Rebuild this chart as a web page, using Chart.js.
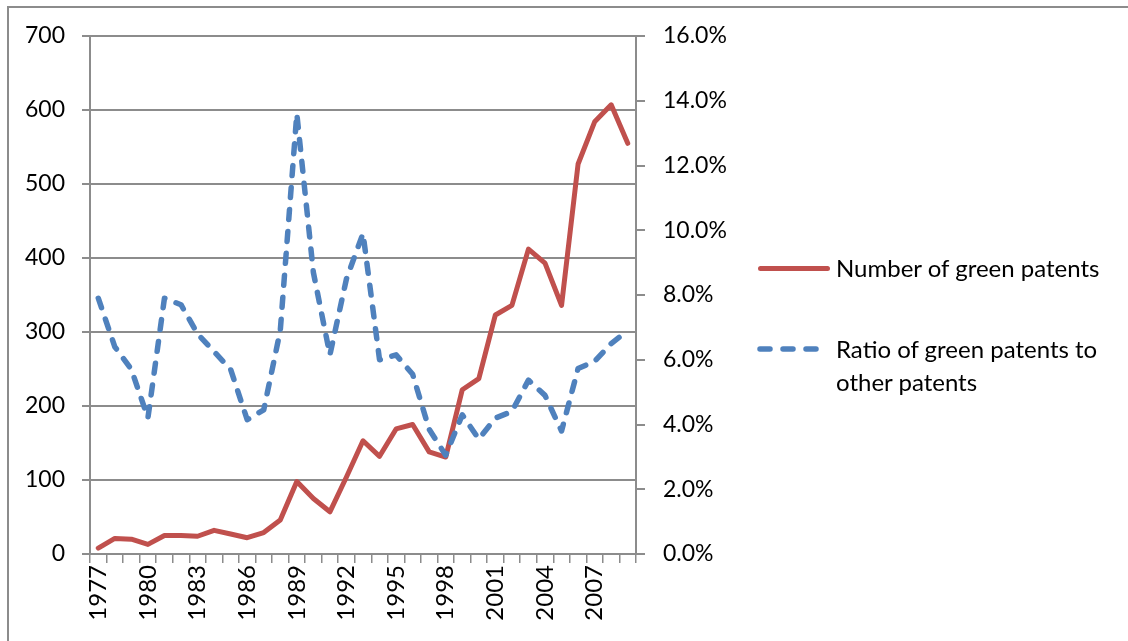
<!DOCTYPE html>
<html>
<head>
<meta charset="utf-8">
<script src="https://cdn.jsdelivr.net/npm/chart.js@4.4.1/dist/chart.umd.min.js"></script>
<style>
  html, body { margin: 0; padding: 0; background: #fff; }
  #wrap { position: relative; width: 1128px; height: 641px; overflow: hidden; font-family: Lato, "Open Sans", sans-serif; }
  #frame { position: absolute; left: 7px; top: 6px; width: 1200px; height: 700px; border-left: 2px solid #8c8c8c; border-top: 2px solid #8c8c8c; }
  #chart { position: absolute; left: 0; top: 0; }
  .leg { position: absolute; font-size: 24px; color: #000; line-height: 33px; }
  .sw { position: absolute; height: 0; }
</style>
</head>
<body>
<div id="wrap">
  <div id="frame"></div>
  <canvas id="chart" width="1128" height="641"></canvas>
  <div class="sw" style="left:758px; top:266px; width:72px; border-top:5px solid #C0504D; border-radius:3px;"></div>
  <div class="leg" style="left:836px; top:251px;">Number of green patents</div>
  <svg style="position:absolute; left:754px; top:343px;" width="80" height="12">
    <line x1="6" y1="6" x2="72" y2="6" stroke="#4F81BD" stroke-width="5.5" stroke-linecap="round" stroke-dasharray="10 13"/>
  </svg>
  <div class="leg" style="left:836px; top:332px;">Ratio of green patents to<br>other patents</div>
</div>
<script>
// categories
const years = ['1977', '1978', '1979', '1980', '1981', '1982', '1983', '1984', '1985', '1986', '1987',
  '1988', '1989', '1990', '1991', '1992', '1993', '1994', '1995', '1996', '1997', '1998',
  '1999', '2000', '2001', '2002', '2003', '2004', '2005', '2006', '2007', '2008', '2009'];

// number of green patents (left axis)
const greenPatents = [8, 21, 20, 13, 25, 25, 24, 32, 27, 22, 29,
  46, 98, 75, 57, 104, 153, 132, 169, 175, 138, 131,
  222, 237, 323, 336, 412, 393, 336, 527, 584, 607, 555];

// ratio of green patents to other patents, in % (right axis)
const greenRatio = [7.9, 6.4, 5.7, 4.2, 7.9, 7.7, 6.8, 6.25, 5.7, 4.15, 4.45,
  6.9, 13.6, 8.7, 6.15, 8.5, 9.9, 6.0, 6.15, 5.55, 3.85, 3.05,
  4.3, 3.55, 4.2, 4.4, 5.37, 4.9, 3.8, 5.73, 5.95, 6.5, 6.9];

const gridColor = '#8c8c8c';
const fontFamily = 'Lato, "Open Sans", sans-serif';

new Chart(document.getElementById('chart').getContext('2d'), {
  type: 'line',
  data: {
    labels: years,
    datasets: [
      {
        label: 'Number of green patents',
        data: greenPatents,
        yAxisID: 'y',
        borderColor: '#C0504D',
        borderWidth: 5,
        borderJoinStyle: 'round',
        borderCapStyle: 'round',
        pointRadius: 0,
        tension: 0,
        order: 2
      },
      {
        label: 'Ratio of green patents to other patents',
        data: greenRatio,
        yAxisID: 'y2',
        borderColor: '#4F81BD',
        borderWidth: 5.5,
        borderDash: [10, 12],
        borderCapStyle: 'round',
        borderJoinStyle: 'round',
        pointRadius: 0,
        tension: 0,
        order: 1
      }
    ]
  },
  options: {
    responsive: false,
    animation: false,
    layout: { padding: { left: 0, right: 392, top: 36, bottom: 0 } },
    plugins: {
      legend: { display: false },
      tooltip: { enabled: false }
    },
    scales: {
      x: {
        offset: true,
        grid: {
          offset: true,
          drawOnChartArea: false,
          drawTicks: true,
          tickLength: 9,
          color: gridColor,
          lineWidth: 1.5
        },
        border: { color: gridColor, width: 2 },
        ticks: {
          autoSkip: false,
          minRotation: 90,
          maxRotation: 90,
          padding: 2,
          color: '#000',
          font: { family: fontFamily, size: 24 },
          callback: function(value, index) {
            return index % 3 === 0 ? years[index] : '';
          }
        },
        afterFit: function(scale) { scale.height = 87; }
      },
      y: {
        position: 'left',
        min: 0,
        max: 700,
        grid: {
          color: gridColor,
          lineWidth: 2,
          tickLength: 8
        },
        border: { color: gridColor, width: 2 },
        ticks: {
          stepSize: 100,
          padding: 17,
          color: '#000',
          font: { family: fontFamily, size: 23 }
        },
        afterFit: function(scale) { scale.width = 90; }
      },
      y2: {
        position: 'right',
        min: 0,
        max: 16,
        grid: {
          drawOnChartArea: false,
          color: gridColor,
          lineWidth: 2,
          tickLength: 9
        },
        border: { color: gridColor, width: 2 },
        ticks: {
          stepSize: 2,
          padding: 18,
          color: '#000',
          font: { family: fontFamily, size: 23 },
          callback: function(value) { return value.toFixed(1) + '%'; }
        },
        afterFit: function(scale) { scale.width = 100; }
      }
    }
  }
});
</script>
</body>
</html>
